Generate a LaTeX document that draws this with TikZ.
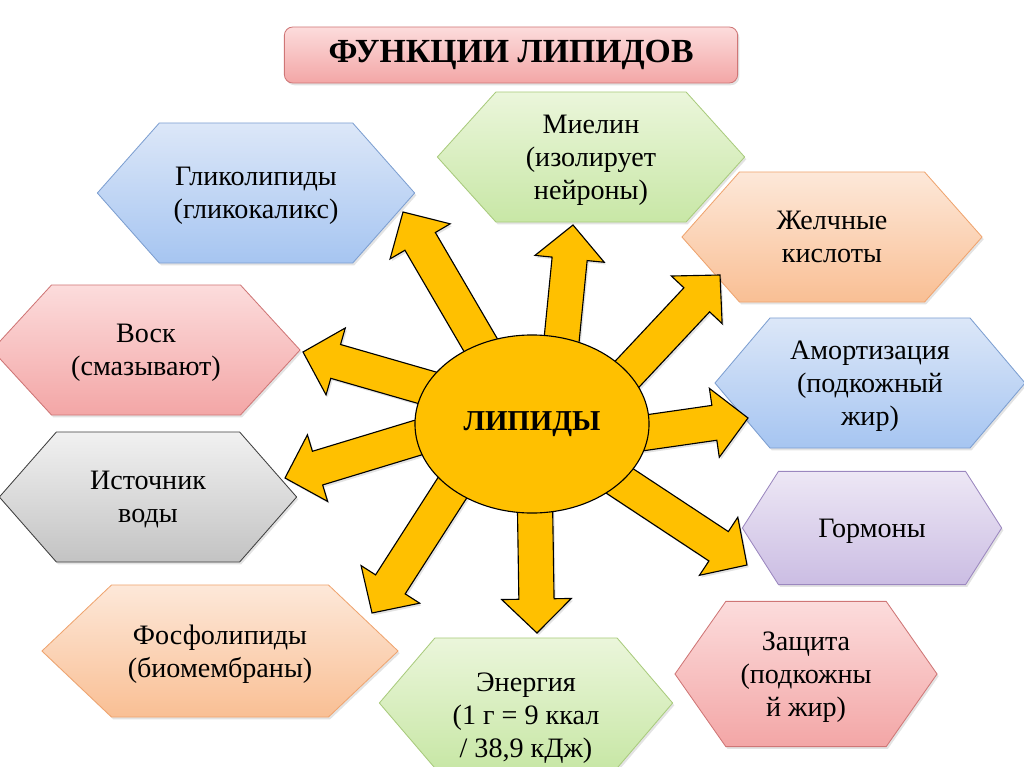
\documentclass[tikz,border=0pt]{standalone}
\usepackage{fontspec}
\setmainfont{Liberation Serif}
\usepackage{tikz}
\usetikzlibrary{shapes.geometric, shapes.symbols, calc, shadows}

\definecolor{gold}{HTML}{FFC000}
\definecolor{blueTop}{HTML}{DCE7F8}
\definecolor{blueBot}{HTML}{A6C5F1}
\definecolor{blueLine}{HTML}{7D9FD1}
\definecolor{greenTop}{HTML}{EBF6DB}
\definecolor{greenBot}{HTML}{C8E7A6}
\definecolor{greenLine}{HTML}{A9CB7D}
\definecolor{orangeTop}{HTML}{FDE8D9}
\definecolor{orangeBot}{HTML}{F9BF94}
\definecolor{orangeLine}{HTML}{EFA46F}
\definecolor{redTop}{HTML}{FCDCDC}
\definecolor{redBot}{HTML}{F3A6A6}
\definecolor{redLine}{HTML}{CF7676}
\definecolor{greyTop}{HTML}{F1F1F1}
\definecolor{greyBot}{HTML}{C3C3C3}
\definecolor{greyLine}{HTML}{3F3F3F}
\definecolor{violetTop}{HTML}{EDE7F5}
\definecolor{violetBot}{HTML}{CBBDE3}
\definecolor{violetLine}{HTML}{9B87BF}

\pgfdeclarelayer{hexlayer}
\pgfdeclarelayer{raylayer}
\pgfsetlayers{hexlayer,raylayer,main}

\tikzset{
    softshadow/.style={drop shadow={opacity=0.22, shadow xshift=1.2pt, shadow yshift=-1.6pt}},
    hexbox/.style={signal, signal to=west and east, align=center, inner sep=2pt, line width=0.6pt, softshadow, font=\fontsize{20pt}{23.5pt}\selectfont, text depth=-5.5pt},
    bluehex/.style={hexbox, draw=blueLine, top color=blueTop, bottom color=blueBot},
    greenhex/.style={hexbox, draw=greenLine, top color=greenTop, bottom color=greenBot},
    orangehex/.style={hexbox, draw=orangeLine, top color=orangeTop, bottom color=orangeBot},
    redhex/.style={hexbox, draw=redLine, top color=redTop, bottom color=redBot},
    greyhex/.style={hexbox, draw=greyLine, top color=greyTop, bottom color=greyBot},
    violethex/.style={hexbox, draw=violetLine, top color=violetTop, bottom color=violetBot},
    titlebox/.style={rectangle, rounded corners=6pt, draw=redLine, line width=0.6pt, top color=redTop, bottom color=redBot, softshadow, minimum width=11.33cm, minimum height=1.4cm, font=\fontsize{24pt}{28pt}\selectfont\bfseries},
    hub/.style={ellipse, draw=black, line width=0.8pt, fill=gold, minimum width=5.85cm, minimum height=4.45cm, font=\fontsize{20.5pt}{24pt}\selectfont\bfseries},
    ray/.style={draw=black, line width=0.8pt, fill=gold, line join=miter, softshadow}
}

% fat arrow from #1 (hidden under the hub) to the tip #2
\newcommand{\sunray}[2]{%
    \coordinate (rayhead) at ($(#2)!0.85cm!(#1)$);
    \filldraw[ray] ($(#1)!0.44cm!90:(#2)$) -- ($(rayhead)!0.44cm!90:(#2)$) -- ($(rayhead)!0.87cm!90:(#2)$) -- (#2)
        -- ($(rayhead)!0.87cm!-90:(#2)$) -- ($(rayhead)!0.44cm!-90:(#2)$) -- ($(#1)!0.44cm!-90:(#2)$) -- cycle;
}

\begin{document}
\begin{tikzpicture}[x=0.025cm, y=-0.025cm]
    \useasboundingbox (0,0) rectangle (1024,767);

    \node (title) [titlebox] at (511,55) {ФУНКЦИИ ЛИПИДОВ};

    \begin{pgfonlayer}{hexlayer}
    \node (glyco) [bluehex, minimum width=7.93cm, minimum height=3.5cm, signal pointer angle=97] at (256,193) {Гликолипиды\\(гликокаликс)};
    \node (myelin) [greenhex, minimum width=7.68cm, minimum height=3.25cm, signal pointer angle=96] at (591,157) {Миелин\\(изолирует\\нейроны)};
    \node (bile) [orangehex, minimum width=7.5cm, minimum height=3.25cm, signal pointer angle=97] at (832,237) {Желчные\\кислоты};
    \node (wax) [redhex, minimum width=7.7cm, minimum height=3.25cm, signal pointer angle=95] at (146,350) {Воск\\(смазывают)};
    \node (water) [greyhex, minimum width=7.43cm, minimum height=3.25cm, signal pointer angle=97.5] at (148,497) {Источник\\воды};
    \node (cushion) [bluehex, minimum width=7.75cm, minimum height=3.25cm, signal pointer angle=99.5] at (870,383) {Амортизация\\(подкожный\\жир)};
    \node (hormones) [violethex, minimum width=6.48cm, minimum height=2.83cm, signal pointer angle=115] at (872,528) {Гормоны};
    \node (phospho) [orangehex, minimum width=8.9cm, minimum height=3.3cm, signal pointer angle=87] at (220,651) {Фосфолипиды\\(биомембраны)};
    \node (energy) [greenhex, minimum width=7.33cm, minimum height=3.25cm, signal pointer angle=99, text height=78pt] at (526,703) {Энергия\\(1 г = 9 ккал\\/ 38,9 кДж)};
    \node (shield) [redhex, minimum width=6.55cm, minimum height=3.63cm, signal pointer angle=110] at (806,674) {Защита\\(подкожны\\й жир)};
    \end{pgfonlayer}

    \node (lipids) [hub] at (532,424) {ЛИПИДЫ};

    % arrow tips next to the hexagons
    \coordinate (tglyco) at (403,212);
    \coordinate (tmyelin) at (573,225);
    \coordinate (tbile) at (720,275);
    \coordinate (tcushion) at (748,418);
    \coordinate (thormones) at (747,565);
    \coordinate (tenergy) at (537,633);
    \coordinate (tphospho) at (372,613);
    \coordinate (twater) at (285,478);
    \coordinate (twax) at (303,352);

    \begin{pgfonlayer}{raylayer}
    \coordinate (sglyco) at ($(lipids.123.5)!-0.75cm!(tglyco)$);
    \sunray{sglyco}{tglyco}
    \coordinate (smyelin) at ($(lipids.71)!-0.75cm!(tmyelin)$);
    \sunray{smyelin}{tmyelin}
    \coordinate (sbile) at ($(lipids.28)!-0.75cm!(tbile)$);
    \sunray{sbile}{tbile}
    \coordinate (scushion) at ($(lipids.-4.4)!-0.75cm!(tcushion)$);
    \sunray{scushion}{tcushion}
    \coordinate (shormones) at ($(lipids.-33.5)!-0.75cm!(thormones)$);
    \sunray{shormones}{thormones}
    \coordinate (senergy) at ($(lipids.-88)!-0.75cm!(tenergy)$);
    \sunray{senergy}{tenergy}
    \coordinate (sphospho) at ($(lipids.219.5)!-0.75cm!(tphospho)$);
    \sunray{sphospho}{tphospho}
    \coordinate (swater) at ($(lipids.187.9)!-0.75cm!(twater)$);
    \sunray{swater}{twater}
    \coordinate (swax) at ($(lipids.161)!-0.75cm!(twax)$);
    \sunray{swax}{twax}
    \end{pgfonlayer}
\end{tikzpicture}
\end{document}
